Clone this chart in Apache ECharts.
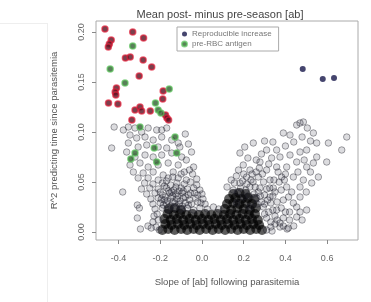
<!DOCTYPE html>
<html>
<head>
<meta charset="utf-8">
<script src="https://cdn.jsdelivr.net/npm/echarts@6/dist/echarts.min.js"></script>
<style>
  html, body { margin: 0; padding: 0; background: #fff; }
  #chart { width: 371px; height: 302px; }
</style>
</head>
<body>
<div id="chart"></div>
<script>
// ticks
var xTicks = [-0.4, -0.2, 0, 0.2, 0.4, 0.6];
var xTickLabels = ['-0.4', '-0.2', '0.0', '0.2', '0.4', '0.6'];
var yTicks = [0, 0.05, 0.1, 0.15, 0.2];
var yTickLabels = ['0.00', '0.05', '0.10', '0.15', '0.20'];

// [slope, R^2]
var navyPoints = [[0.483, 0.163], [0.579, 0.153], [0.633, 0.154]];

var redPoints = [
  [-0.465, 0.203], [-0.332, 0.200], [-0.280, 0.194], [-0.435, 0.192], [-0.444, 0.188],
  [-0.449, 0.185], [-0.367, 0.174], [-0.344, 0.175], [-0.282, 0.172], [-0.241, 0.165],
  [-0.301, 0.156], [-0.410, 0.144], [-0.416, 0.140], [-0.413, 0.137], [-0.186, 0.141],
  [-0.188, 0.133], [-0.448, 0.129], [-0.403, 0.128], [-0.321, 0.122], [-0.297, 0.125],
  [-0.289, 0.121], [-0.248, 0.121], [-0.175, 0.117], [-0.168, 0.114], [-0.160, 0.112],
  [-0.336, 0.112]
];

var greenPoints = [
  [-0.332, 0.186], [-0.440, 0.163], [-0.369, 0.149], [-0.157, 0.143], [-0.223, 0.129],
  [-0.210, 0.122], [-0.197, 0.119], [-0.297, 0.105], [-0.129, 0.095], [-0.229, 0.084],
  [-0.341, 0.073], [-0.321, 0.079], [-0.217, 0.070], [-0.121, 0.079]
];

// left arm of the cloud
var greyLeft = [
  [-0.433, 0.084], [-0.421, 0.105], [-0.377, 0.102], [-0.380, 0.040], [-0.310, 0.027],
  [-0.300, 0.024], [-0.310, 0.014], [-0.295, 0.003], [-0.259, 0.006], [-0.243, 0.004],
  [-0.353, 0.105], [-0.321, 0.104], [-0.289, 0.100], [-0.258, 0.104], [-0.217, 0.102],
  [-0.193, 0.102], [-0.169, 0.104], [-0.345, 0.097], [-0.313, 0.094], [-0.273, 0.095],
  [-0.234, 0.092], [-0.193, 0.095], [-0.145, 0.092], [-0.114, 0.089], [-0.353, 0.089],
  [-0.306, 0.085], [-0.265, 0.087], [-0.210, 0.085], [-0.169, 0.084], [-0.106, 0.085],
  [-0.361, 0.080], [-0.321, 0.075], [-0.273, 0.077], [-0.234, 0.075], [-0.193, 0.077],
  [-0.145, 0.079], [-0.097, 0.075], [-0.345, 0.067], [-0.297, 0.069], [-0.258, 0.065],
  [-0.210, 0.067], [-0.162, 0.069], [-0.114, 0.067], [-0.329, 0.060], [-0.282, 0.059],
  [-0.234, 0.060], [-0.186, 0.057], [-0.138, 0.060], [-0.306, 0.054], [-0.258, 0.054],
  [-0.210, 0.052], [-0.162, 0.054], [-0.114, 0.054], [-0.080, 0.098], [-0.065, 0.088],
  [-0.075, 0.072], [-0.050, 0.080], [-0.060, 0.062], [-0.085, 0.060], [-0.040, 0.065],
  [-0.275, 0.049], [-0.235, 0.048], [-0.190, 0.049], [-0.150, 0.047], [-0.120, 0.049],
  [-0.085, 0.048], [-0.055, 0.050], [-0.025, 0.047], [-0.290, 0.043], [-0.250, 0.044],
  [-0.210, 0.043], [-0.170, 0.044], [-0.135, 0.042], [-0.100, 0.044], [-0.070, 0.043],
  [-0.040, 0.044], [-0.010, 0.042], [-0.265, 0.038], [-0.225, 0.039], [-0.190, 0.037],
  [-0.155, 0.039], [-0.125, 0.038], [-0.095, 0.039], [-0.065, 0.037], [-0.035, 0.039],
  [0.000, 0.038], [-0.245, 0.033], [-0.210, 0.034], [-0.180, 0.032], [-0.150, 0.034],
  [-0.120, 0.033], [-0.090, 0.034], [-0.060, 0.032], [-0.030, 0.034], [0.005, 0.033],
  [-0.235, 0.028], [-0.200, 0.029], [-0.170, 0.028], [-0.140, 0.030], [-0.110, 0.028],
  [-0.080, 0.029], [-0.050, 0.028], [-0.020, 0.030], [0.015, 0.028], [-0.225, 0.023],
  [-0.190, 0.024], [-0.160, 0.022], [-0.130, 0.024], [-0.100, 0.023], [-0.070, 0.024],
  [-0.040, 0.022], [-0.010, 0.024], [0.025, 0.023], [0.055, 0.025], [0.080, 0.023],
  [-0.220, 0.005], [-0.210, 0.012], [-0.215, 0.018], [-0.205, 0.002],
  [-0.180, 0.046], [-0.140, 0.036], [-0.105, 0.031], [-0.160, 0.041], [-0.125, 0.045],
  [-0.200, 0.040], [-0.090, 0.041], [-0.150, 0.026], [-0.115, 0.036], [-0.175, 0.035],
  [-0.185, 0.027], [-0.165, 0.031], [-0.145, 0.040], [-0.110, 0.041], [-0.080, 0.035],
  [-0.055, 0.039], [-0.195, 0.033], [-0.130, 0.029], [-0.095, 0.026], [-0.065, 0.027],
  [-0.230, 0.016], [-0.235, 0.010], [-0.170, 0.051], [-0.140, 0.055], [-0.100, 0.058],
  [-0.075, 0.052], [-0.025, 0.053], [-0.045, 0.058], [-0.020, 0.037], [-0.005, 0.029]
];

// right arm of the cloud
var greyRight = [
  [0.470, 0.109], [0.486, 0.110], [0.454, 0.107], [0.534, 0.099], [0.694, 0.095],
  [0.670, 0.082], [0.606, 0.089], [0.598, 0.070], [0.246, 0.089], [0.182, 0.079],
  [0.390, 0.099], [0.422, 0.097], [0.358, 0.082], [0.550, 0.089], [0.534, 0.069],
  [0.558, 0.055], [0.470, 0.035], [0.454, 0.025], [0.390, 0.014], [0.414, 0.004],
  [0.374, 0.005], [0.310, 0.082], [0.334, 0.074], [0.278, 0.070], [0.374, 0.075],
  [0.422, 0.077], [0.470, 0.080], [0.502, 0.082], [0.454, 0.070], [0.502, 0.065],
  [0.406, 0.065], [0.358, 0.065], [0.310, 0.062], [0.230, 0.062], [0.198, 0.067],
  [0.214, 0.055], [0.270, 0.055], [0.326, 0.052], [0.382, 0.055], [0.438, 0.055],
  [0.486, 0.052], [0.526, 0.049], [0.470, 0.045], [0.406, 0.045], [0.342, 0.044],
  [0.278, 0.044], [0.230, 0.045], [0.182, 0.049], [0.150, 0.042], [0.198, 0.035],
  [0.262, 0.034], [0.326, 0.035], [0.390, 0.032], [0.438, 0.029], [0.502, 0.022],
  [0.454, 0.015], [0.358, 0.022], [0.294, 0.025], [0.230, 0.025], [0.166, 0.029],
  [0.310, 0.002], [0.336, 0.001], [0.408, 0.003], [0.374, 0.009], [0.330, 0.010],
  [0.350, 0.016], [0.310, 0.014], [0.420, 0.020], [0.480, 0.012], [0.120, 0.045],
  [0.140, 0.052], [0.165, 0.056], [0.200, 0.058], [0.245, 0.050], [0.260, 0.060],
  [0.295, 0.050], [0.310, 0.043], [0.170, 0.040], [0.210, 0.042], [0.250, 0.038],
  [0.300, 0.037], [0.330, 0.029], [0.350, 0.040], [0.370, 0.050], [0.365, 0.060],
  [0.320, 0.068], [0.285, 0.078], [0.260, 0.072], [0.220, 0.074], [0.205, 0.085],
  [0.300, 0.091], [0.340, 0.090], [0.400, 0.086], [0.440, 0.090], [0.480, 0.095],
  [0.505, 0.104], [0.520, 0.091], [0.490, 0.072], [0.460, 0.060], [0.430, 0.040],
  [0.400, 0.058], [0.520, 0.060], [0.550, 0.075], [0.470, 0.020], [0.420, 0.012],
  [0.350, 0.008], [0.440, 0.006], [0.500, 0.040], [0.300, 0.018], [0.320, 0.020],
  [0.185, 0.044], [0.225, 0.036], [0.270, 0.040], [0.240, 0.058], [0.285, 0.030],
  [0.155, 0.049], [0.195, 0.051], [0.315, 0.032], [0.275, 0.064], [0.345, 0.052],
  [0.175, 0.062], [0.215, 0.048], [0.255, 0.045], [0.290, 0.058], [0.325, 0.044],
  [0.235, 0.052], [0.280, 0.036], [0.340, 0.036], [0.360, 0.030], [0.380, 0.042],
  [0.395, 0.052], [0.415, 0.035], [0.265, 0.028], [0.300, 0.028], [0.340, 0.022],
  [0.380, 0.024], [0.400, 0.020], [0.360, 0.012], [0.330, 0.005], [0.390, 0.006]
];

// dense black base around zero
var greyCore = [
  [-0.190, 0.002], [-0.162, 0.003], [-0.131, 0.002], [-0.100, 0.003], [-0.071, 0.002],
  [-0.040, 0.003], [-0.011, 0.002], [0.020, 0.003], [0.051, 0.002], [0.080, 0.003],
  [0.111, 0.002], [0.140, 0.003], [0.171, 0.002], [0.200, 0.003], [0.231, 0.002],
  [0.260, 0.003], [0.288, 0.002],
  [-0.175, 0.008], [-0.146, 0.007], [-0.115, 0.008], [-0.085, 0.007], [-0.056, 0.008],
  [-0.025, 0.007], [0.005, 0.008], [0.035, 0.007], [0.066, 0.008], [0.095, 0.007],
  [0.125, 0.008], [0.156, 0.007], [0.185, 0.008], [0.215, 0.007], [0.246, 0.008],
  [0.274, 0.007],
  [-0.180, 0.013], [-0.150, 0.012], [-0.120, 0.013], [-0.090, 0.012], [-0.060, 0.013],
  [-0.030, 0.012], [0.000, 0.013], [0.030, 0.012], [0.060, 0.013], [0.090, 0.012],
  [0.120, 0.013], [0.150, 0.012], [0.180, 0.013], [0.210, 0.012], [0.240, 0.013],
  [0.268, 0.012],
  [-0.165, 0.018], [-0.135, 0.017], [-0.105, 0.018], [-0.075, 0.017], [-0.045, 0.018],
  [-0.015, 0.017], [0.015, 0.018], [0.045, 0.017], [0.075, 0.018], [0.105, 0.017],
  [0.135, 0.018], [0.165, 0.017], [0.195, 0.018], [0.225, 0.017], [0.254, 0.018],
  [-0.160, 0.023], [-0.130, 0.024], [-0.100, 0.022], [0.110, 0.023], [0.140, 0.022],
  [0.170, 0.024], [0.200, 0.023], [0.230, 0.022], [0.258, 0.024],
  [0.120, 0.028], [0.150, 0.029], [0.180, 0.028], [0.210, 0.029], [0.240, 0.028],
  [0.130, 0.033], [0.160, 0.034], [0.190, 0.033], [0.220, 0.034], [0.250, 0.033],
  [0.150, 0.038], [0.180, 0.039], [0.210, 0.038]
];

function tickLabel(values, labels, v) {
  for (var i = 0; i < values.length; i++) {
    if (Math.abs(values[i] - v) < 1e-9) return labels[i];
  }
  return '';
}

var chart = echarts.init(document.getElementById('chart'));

var openCircle = {
  color: 'rgba(40,40,55,0.2)',
  borderColor: 'rgba(30,30,40,0.5)',
  borderWidth: 1
};

chart.setOption({
  animation: false,
  backgroundColor: '#fff',
  title: {
    text: 'Mean post- minus pre-season [ab]',
    left: 215,
    textAlign: 'center',
    top: 4,
    textStyle: { fontFamily: 'Liberation Sans', fontSize: 11, fontWeight: 'normal', color: '#444' }
  },
  legend: {
    orient: 'vertical',
    left: 177,
    top: 27,
    data: ['Reproducible increase', 'pre-RBC antigen'],
    icon: 'circle',
    itemWidth: 5,
    itemHeight: 5,
    itemGap: 2,
    padding: [3, 7, 3, 4],
    borderColor: '#aaa',
    borderWidth: 1,
    borderRadius: 0,
    backgroundColor: '#fff',
    textStyle: { fontFamily: 'Liberation Sans', fontSize: 8, color: '#777' }
  },
  grid: {
    left: 96,
    right: 13,
    top: 21,
    bottom: 62,
    show: true,
    borderColor: '#aaa',
    borderWidth: 1
  },
  xAxis: {
    type: 'value',
    min: -0.508,
    max: 0.748,
    name: 'Slope of [ab] following parasitemia',
    nameLocation: 'middle',
    nameGap: 37,
    nameTextStyle: { fontFamily: 'Liberation Sans', fontSize: 9.5, color: '#555' },
    axisLine: { show: false, onZero: false },
    splitLine: { show: false },
    axisTick: { show: true, customValues: xTicks, length: 4, lineStyle: { color: '#888' } },
    axisLabel: {
      customValues: xTicks,
      margin: 14,
      fontFamily: 'Liberation Sans',
      fontSize: 9,
      color: '#666',
      formatter: function (v) { return tickLabel(xTicks, xTickLabels, v); }
    }
  },
  yAxis: {
    type: 'value',
    min: -0.008,
    max: 0.211,
    name: 'R^2 predicting time since parasitemia',
    nameLocation: 'middle',
    nameGap: 37,
    nameTextStyle: { fontFamily: 'Liberation Sans', fontSize: 9.5, color: '#555' },
    axisLine: { show: false, onZero: false },
    splitLine: { show: false },
    axisTick: { show: true, customValues: yTicks, length: 4, lineStyle: { color: '#888' } },
    axisLabel: {
      customValues: yTicks,
      rotate: 90,
      margin: 10,
      fontFamily: 'Liberation Sans',
      fontSize: 9,
      color: '#666',
      formatter: function (v) { return tickLabel(yTicks, yTickLabels, v); }
    }
  },
  graphic: [
    { type: 'line', shape: { x1: 47.5, y1: 23, x2: 47.5, y2: 302 }, style: { stroke: '#eee', lineWidth: 1 }, silent: true },
    { type: 'line', shape: { x1: 0, y1: 23.5, x2: 47, y2: 23.5 }, style: { stroke: '#eee', lineWidth: 1 }, silent: true }
  ],
  series: [
    { name: 'core', type: 'scatter', data: greyCore, symbolSize: 10,
      itemStyle: { color: 'rgba(0,0,0,0.8)', borderWidth: 0 } },
    { name: 'left', type: 'scatter', data: greyLeft, symbolSize: 6.5, itemStyle: openCircle },
    { name: 'right', type: 'scatter', data: greyRight, symbolSize: 6.5, itemStyle: openCircle },
    { name: 'Reproducible decrease', type: 'scatter', data: redPoints, symbolSize: 6,
      itemStyle: { color: '#5a1020', borderColor: 'rgba(225,30,55,0.85)', borderWidth: 1.5 } },
    { name: 'pre-RBC antigen', type: 'scatter', data: greenPoints, symbolSize: 6,
      itemStyle: { color: '#2f5f2f', borderColor: 'rgba(90,195,90,0.85)', borderWidth: 1.5 } },
    { name: 'Reproducible increase', type: 'scatter', data: navyPoints, symbolSize: 6,
      itemStyle: { color: '#16164a' } }
  ]
});
</script>
</body>
</html>
